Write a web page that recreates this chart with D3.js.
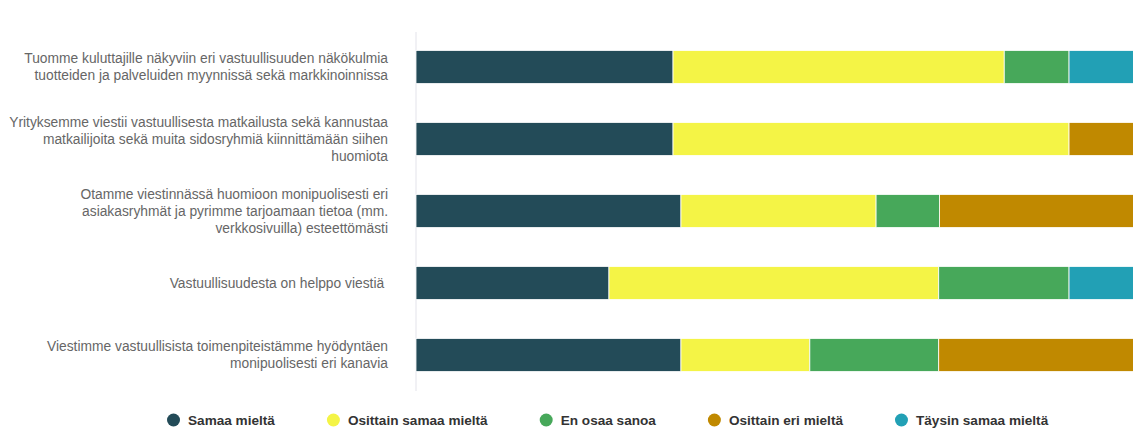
<!DOCTYPE html>
<html>
<head>
<meta charset="utf-8">
<script src="https://cdn.jsdelivr.net/npm/d3@7"></script>
<style>
  body { margin: 0; background: #fff; }
  svg { display: block; font-family: "Liberation Sans", Arial, sans-serif; }
</style>
</head>
<body>
<script>
const width = 1133;
const height = 428;

// Statements (already wrapped as in the picture)
const statements = [
  ["Tuomme kuluttajille näkyviin eri vastuullisuuden näkökulmia", "tuotteiden ja palveluiden myynnissä sekä markkinoinnissa"],
  ["Yrityksemme viestii vastuullisesta matkailusta sekä kannustaa", "matkailijoita sekä muita sidosryhmiä kiinnittämään siihen", "huomiota"],
  ["Otamme viestinnässä huomioon monipuolisesti eri", "asiakasryhmät ja pyrimme tarjoamaan tietoa (mm.", "verkkosivuilla) esteettömästi"],
  ["Vastuullisuudesta on helppo viestiä "],
  ["Viestimme vastuullisista toimenpiteistämme hyödyntäen", "monipuolisesti eri kanavia"]
];

// Answer categories and colours (stack order)
const answers = ["Samaa mieltä", "Osittain samaa mieltä", "En osaa sanoa", "Osittain eri mieltä", "Täysin samaa mieltä"];
const colors = ["#234b58", "#f4f446", "#47a85a", "#c08900", "#22a0b5"];

// Share of answers per statement, %
const samaa        = [35.7, 35.7, 36.8, 26.8, 36.8];
const osittainSamaa = [46.0, 55.0, 27.1, 45.8, 17.9];
const enOsaa       = [9.0, 0, 8.8, 18.1, 17.9];
const osittainEri  = [0, 9.3, 27.3, 0, 27.4];
const taysin       = [9.3, 0, 0, 9.3, 0];

const series = [samaa, osittainSamaa, enOsaa, osittainEri, taysin];
const rows = statements.map((s, i) => {
  const r = { i };
  answers.forEach((a, k) => r[a] = series[k][i]);
  return r;
});

const svg = d3.select("body")
  .append("svg")
  .attr("width", width)
  .attr("height", height);

const x = d3.scaleLinear().domain([0, 100]).range([416, 1136]);
const y = d3.scaleBand()
  .domain(d3.range(statements.length))
  .range([31, 391])
  .paddingInner(0.54)
  .paddingOuter(0.27);

const stack = d3.stack().keys(answers)(rows);

// Category axis line
svg.append("line")
  .attr("x1", 416).attr("x2", 416)
  .attr("y1", 32).attr("y2", 391)
  .attr("stroke", "#e3e3ea")
  .attr("stroke-width", 1);

// Bars
svg.append("g")
  .selectAll("g")
  .data(stack)
  .join("g")
  .attr("fill", (d, k) => colors[k])
  .selectAll("rect")
  .data(d => d)
  .join("rect")
  .attr("x", d => x(d[0]))
  .attr("y", d => y(d.data.i))
  .attr("width", d => Math.max(0, x(d[1]) - x(d[0])))
  .attr("height", y.bandwidth())
  .attr("stroke", "#fff")
  .attr("stroke-width", 0.8);

// Statement labels
const lineH = 17.3;
svg.append("g")
  .selectAll("text")
  .data(statements)
  .join("text")
  .attr("text-anchor", "end")
  .attr("font-size", 13.8)
  .attr("fill", "#666")
  .each(function (lines, i) {
    const cy = y(i) + y.bandwidth() / 2;
    const top = cy - (lines.length - 1) * lineH / 2;
    d3.select(this).selectAll("tspan")
      .data(lines)
      .join("tspan")
      .attr("x", 388)
      .attr("y", (l, j) => top + j * lineH)
      .attr("dy", "0.35em")
      .style("white-space", "pre")
      .text(l => l);
  });

// Legend
const legend = svg.append("g").attr("font-size", 13.6).attr("font-weight", "bold");
let lx = 167;
answers.forEach((a, k) => {
  const item = legend.append("g").attr("transform", `translate(${lx},420)`);
  item.append("circle").attr("cx", 6.5).attr("cy", 0).attr("r", 6.5).attr("fill", colors[k]);
  const t = item.append("text")
    .attr("x", 21)
    .attr("dy", "0.35em")
    .attr("fill", "#333")
    .text(a);
  lx += 21 + t.node().getComputedTextLength() + 52;
});
</script>
</body>
</html>
